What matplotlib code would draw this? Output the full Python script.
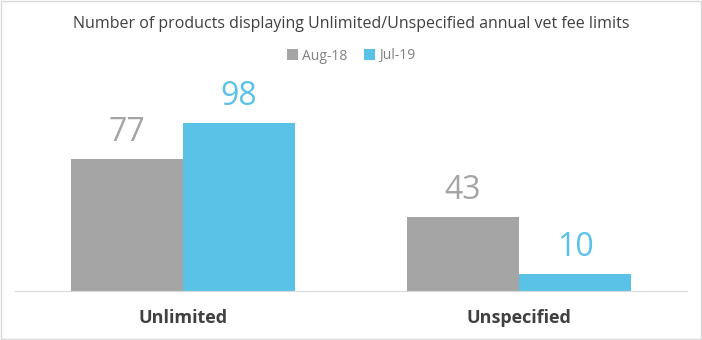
import numpy as np
import matplotlib.pyplot as plt
from matplotlib.patches import Rectangle

categories = ['Unlimited', 'Unspecified']
series_names = ['Aug-18', 'Jul-19']
aug18 = [77, 43]
jul19 = [98, 10]

grey = '#A5A5A5'
blue = '#5BC2E7'

plt.rcParams['font.family'] = ['Open Sans', 'DejaVu Sans']

fig = plt.figure(figsize=(7.02, 3.40), dpi=100)
ax = fig.add_axes([15 / 702, 49 / 340, 672 / 702, 231 / 340])

x = np.arange(len(categories))
w = 1 / 3
b1 = ax.bar(x - w / 2, aug18, w, color=grey, label=series_names[0])
b2 = ax.bar(x + w / 2, jul19, w, color=blue, label=series_names[1])

for bars, vals, c in [(b1, aug18, grey), (b2, jul19, blue)]:
    for r, v in zip(bars, vals):
        ax.text(r.get_x() + r.get_width() / 2, v + 6, str(v), ha='center', va='bottom',
                fontsize=23, color=c)

ax.set_xlim(-0.5, 1.5)
ax.set_ylim(0, 231 / 1.714)
ax.set_yticks([])
ax.set_xticks(x)
ax.set_xticklabels(categories, fontsize=13, fontweight='bold', color='#404040')
ax.tick_params(axis='x', length=0, pad=13)
for s in ['top', 'left', 'right']:
    ax.spines[s].set_visible(False)
ax.spines['bottom'].set_color('#D9D9D9')

fig.text(0.5, 1 - 24 / 340, 'Number of products displaying Unlimited/Unspecified annual vet fee limits',
         ha='center', va='center', fontsize=11.5, color='#404040')
leg = fig.legend(loc='center', bbox_to_anchor=(0.5, 1 - 56 / 340), ncol=2, frameon=False,
                 fontsize=10, handlelength=0.8, handleheight=0.8, columnspacing=1.2, handletextpad=0.3)
for t in leg.get_texts():
    t.set_color('#808080')

fig.patches.append(Rectangle((0.002, 0.003), 0.996, 0.994, transform=fig.transFigure,
                             fill=False, edgecolor='#D9D9D9', linewidth=1))

fig.savefig('out.png', dpi=100)
